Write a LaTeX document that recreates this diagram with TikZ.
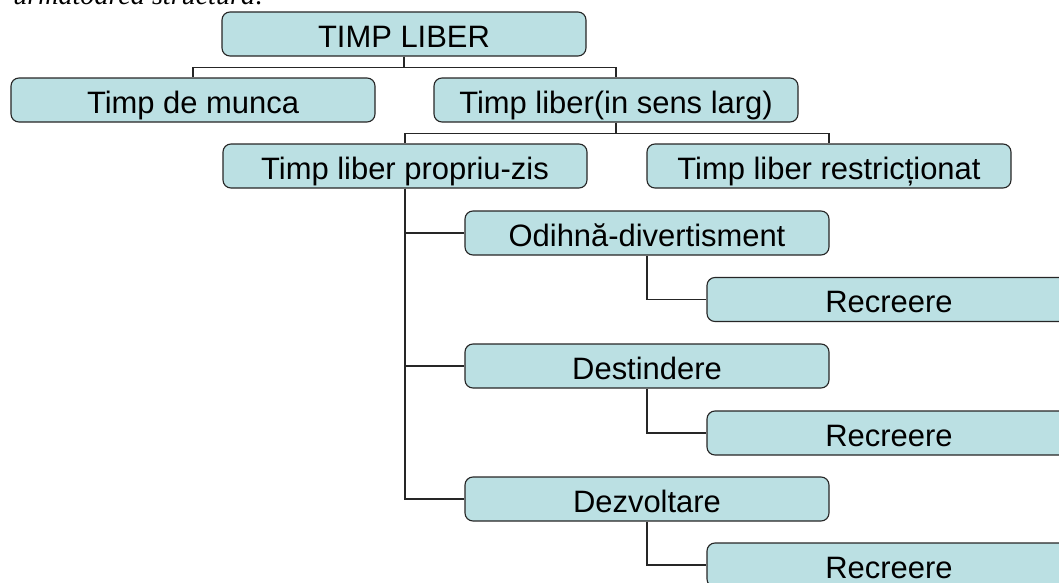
\documentclass[tikz,border=0pt]{standalone}
\usepackage{fontspec}
\setmainfont{Liberation Sans}
\newfontfamily\textserif{Liberation Serif}
\usepackage{tikz}

\definecolor{boxfill}{RGB}{187,224,227}

\begin{document}
\begin{tikzpicture}[x=0.25cm, y=-0.25cm,
  orgbox/.style={draw=black!85, line width=0.8pt, fill=boxfill, rounded corners=0.2cm,
    minimum width=9.1cm, minimum height=1.1cm, inner sep=0pt,
    font=\fontsize{22}{26}\selectfont, text height=18.5pt, text depth=0pt},
  link/.style={line width=1pt, draw=black!85}]

  \clip (0,0) rectangle (105.9,58.2);

  % end of the paragraph above the chart
  \node[anchor=base west, inner sep=0pt, font=\textserif\itshape\fontsize{20}{24}\selectfont] (intro) at (1.3,0.4) {următoarea structură:};

  \node[orgbox] (root) at (40.4,3.4) {TIMP LIBER};
  \node[orgbox] (munca) at (19.3,10) {Timp de munca};
  \node[orgbox] (larg) at (61.6,10) {Timp liber(in sens larg)};

  \node[orgbox] (propriu) at (40.5,16.6) {Timp liber propriu-zis};
  \node[orgbox] (restrict) at (82.9,16.6) {Timp liber restricționat};

  \node[orgbox] (odihna) at (64.7,23.3) {Odihnă-divertisment};
  \node[orgbox] (rec1) at (88.9,29.95) {Recreere};
  \node[orgbox] (destind) at (64.7,36.6) {Destindere};
  \node[orgbox] (rec2) at (88.9,43.3) {Recreere};
  \node[orgbox] (dezvolt) at (64.7,49.9) {Dezvoltare};
  \node[orgbox] (rec3) at (88.9,56.5) {Recreere};

  % tree links
  \draw[link] (root.south) -- ++(0,1.1) -| (munca.north);
  \draw[link] (root.south) -- ++(0,1.1) -| (larg.north);
  \draw[link] (larg.south) -- ++(0,1.1) -| (propriu.north);
  \draw[link] (larg.south) -- ++(0,1.1) -| (restrict.north);

  \draw[link] (propriu.south) |- (odihna.west);
  \draw[link] (propriu.south) |- (destind.west);
  \draw[link] (propriu.south) |- (dezvolt.west);

  \draw[link] (odihna.south) |- (rec1.west);
  \draw[link] (destind.south) |- (rec2.west);
  \draw[link] (dezvolt.south) |- (rec3.west);
\end{tikzpicture}
\end{document}
